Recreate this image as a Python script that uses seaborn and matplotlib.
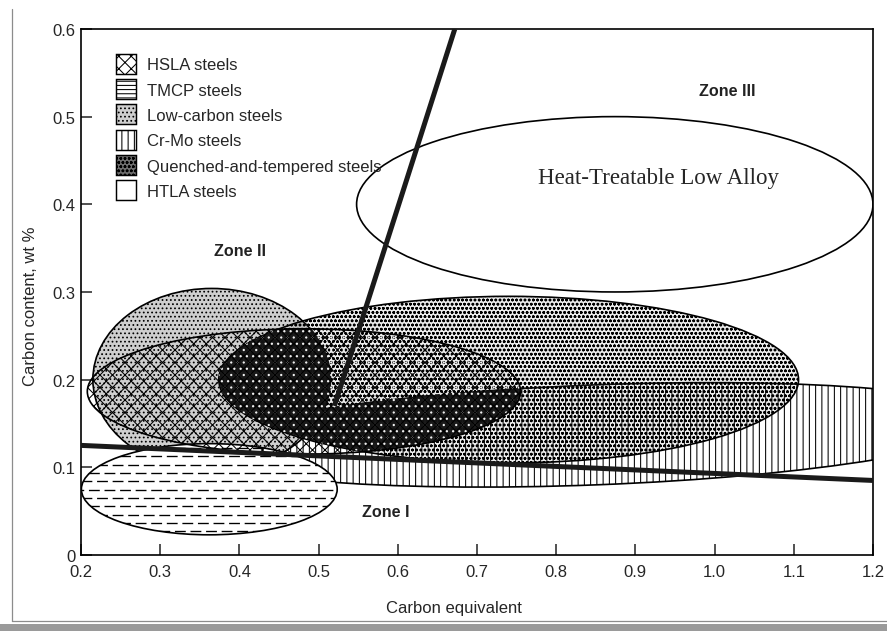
import numpy as np
import pandas as pd
import seaborn as sns
import matplotlib.pyplot as plt
from matplotlib.patches import Ellipse, Patch, Rectangle
from matplotlib.lines import Line2D


FIG_DPI = 75

# steel classes drawn as ellipses on the Graville diagram
STEELS = ['HSLA steels', 'TMCP steels', 'Low-carbon steels', 'Cr-Mo steels',
          'Quenched-and-tempered steels', 'HTLA steels']
CE_CENTRE = [0.4815, 0.362, 0.365, 0.85, 0.74, 0.874]
C_CENTRE = [0.1865, 0.075, 0.200, 0.137, 0.200, 0.400]
CE_WIDTH = [0.547, 0.323, 0.300, 1.000, 0.732, 0.652]
C_HEIGHT = [0.143, 0.104, 0.208, 0.114, 0.190, 0.200]
TILT = [0, 0, 0, 2, 0, 0]

# zone boundary lines
LOWER_CE = [0.20, 1.20]
LOWER_C = [0.125, 0.085]
STEEP_CE = [0.52, 0.672]
STEEP_C = [0.17, 0.60]

ZONE_TEXT = ['Zone I', 'Zone II', 'Zone III']
ZONE_CE = [0.585, 0.401, 1.016]
ZONE_C = [0.050, 0.347, 0.530]

X_TICKS = [0.2, 0.3, 0.4, 0.5, 0.6, 0.7, 0.8, 0.9, 1.0, 1.1, 1.2]
Y_TICKS = [0, 0.1, 0.2, 0.3, 0.4, 0.5, 0.6]
Y_TICK_LABELS = ['0', '0.1', '0.2', '0.3', '0.4', '0.5', '0.6']

HTLA_NOTE = 'Heat-Treatable Low Alloy'
NOTE_CE, NOTE_C = 0.929, 0.430

STYLE = {
    'HSLA steels': dict(facecolor='none', hatch='xx', zorder=5),
    'TMCP steels': dict(facecolor='white', hatch=None, zorder=3),
    'Low-carbon steels': dict(facecolor='#cfcfcf', hatch='...', zorder=2),
    'Cr-Mo steels': dict(facecolor='white', hatch='||', zorder=1),
    'Quenched-and-tempered steels': dict(
        facecolor=(0.5, 0.5, 0.5, 0.15), hatch='ooo', zorder=4),
    'HTLA steels': dict(facecolor='none', hatch=None, zorder=5),
}


def inside(xx, yy, i):
    # point-in-ellipse test for steel class i (data coordinates)
    t = np.deg2rad(TILT[i])
    dx, dy = xx - CE_CENTRE[i], yy - C_CENTRE[i]
    u = dx * np.cos(t) + dy * np.sin(t)
    v = -dx * np.sin(t) + dy * np.cos(t)
    return (u / (CE_WIDTH[i] / 2)) ** 2 + (v / (C_HEIGHT[i] / 2)) ** 2 <= 1


sns.set_style('white')
plt.rcParams['font.family'] = ['Liberation Sans', 'DejaVu Sans']
plt.rcParams['hatch.linewidth'] = 1.0

fig = plt.figure(figsize=(887 / FIG_DPI, 632 / FIG_DPI), dpi=FIG_DPI)
ax = fig.add_axes([0.0913, 0.1203, 0.8929, 0.8323])

regions = {}
for name, cx, cy, w, h, ang in zip(STEELS, CE_CENTRE, C_CENTRE, CE_WIDTH,
                                   C_HEIGHT, TILT):
    st = STYLE[name]
    ell = Ellipse((cx, cy), w, h, angle=ang, facecolor=st['facecolor'],
                  edgecolor='black', hatch=st['hatch'], lw=1.6,
                  zorder=st['zorder'])
    ax.add_patch(ell)
    regions[name] = ell

# TMCP: rows of short dashes clipped to its ellipse
i = STEELS.index('TMCP steels')
cx, cy, w, h = CE_CENTRE[i], C_CENTRE[i], CE_WIDTH[i], C_HEIGHT[i]
for k, yy in enumerate(np.arange(cy - h / 2 + 0.004, cy + h / 2, 0.0095)):
    ln, = ax.plot([cx - w / 2, cx + w / 2], [yy, yy], color='black', lw=1.3,
                  linestyle=(6 * (k % 2), (8, 3.5)), zorder=3.1)
    ln.set_clip_path(regions['TMCP steels'])

# where several overlays stack up the print turns almost black
gx, gy = np.meshgrid(np.linspace(0.2, 1.2, 1600), np.linspace(0, 0.6, 960))
i_hsla = STEELS.index('HSLA steels')
i_qt = STEELS.index('Quenched-and-tempered steels')
i_lc = STEELS.index('Low-carbon steels')
i_cm = STEELS.index('Cr-Mo steels')
stack = (inside(gx, gy, i_hsla) & inside(gx, gy, i_qt)
         & (inside(gx, gy, i_lc) | inside(gx, gy, i_cm)))
ink = np.zeros(stack.shape + (4,))
ink[..., :3] = 0.08
ink[..., 3] = stack * 0.97
ax.imshow(ink, extent=(0.2, 1.2, 0, 0.6), origin='lower', aspect='auto',
          interpolation='antialiased', zorder=4.5)
specks = Ellipse((CE_CENTRE[i_qt], C_CENTRE[i_qt]), CE_WIDTH[i_qt],
                 C_HEIGHT[i_qt], facecolor='none', edgecolor='#eeeeee',
                 hatch='..', lw=0, zorder=4.6)
ax.add_patch(specks)
specks.set_clip_path(regions['HSLA steels'])

bounds = pd.DataFrame({
    'ce': LOWER_CE + STEEP_CE,
    'c': LOWER_C + STEEP_C,
    'line': ['lower'] * len(LOWER_CE) + ['steep'] * len(STEEP_CE)})
sns.lineplot(data=bounds, x='ce', y='c', units='line', estimator=None,
             sort=False, color='#1a1a1a', lw=4.8, solid_capstyle='butt',
             ax=ax, zorder=6)

for txt, zx, zy in zip(ZONE_TEXT, ZONE_CE, ZONE_C):
    ax.text(zx, zy, txt, fontsize=15.5, fontweight='bold', color='#222222',
            ha='center', va='center', zorder=7)
ax.text(NOTE_CE, NOTE_C, HTLA_NOTE, fontsize=22, ha='center', va='center',
        family=['Liberation Serif', 'DejaVu Serif'], zorder=7)

handles = []
for name in STEELS:
    st = STYLE[name]
    hatch = '---' if name == 'TMCP steels' else st['hatch']
    fc = st['facecolor']
    if name == 'Quenched-and-tempered steels':
        fc = '#6e6e6e'
    handles.append(Patch(facecolor=fc, edgecolor='black', hatch=hatch,
                         lw=1.4))
ax.legend(handles, STEELS, loc='upper left', bbox_to_anchor=(0.03, 0.975),
          frameon=False, fontsize=16, handlelength=1.2, handleheight=1.47,
          handletextpad=0.65, labelspacing=0.32, borderpad=0.2)

ax.set_xlim(0.2, 1.2)
ax.set_ylim(0, 0.6)
ax.set_xticks(X_TICKS)
ax.set_yticks(Y_TICKS)
ax.set_yticklabels(Y_TICK_LABELS)
ax.tick_params(direction='in', length=11, width=1.5, labelsize=16,
               bottom=True, left=True, top=False, right=False)
ax.tick_params(axis='x', pad=9)
ax.tick_params(axis='y', pad=5)
for sp in ax.spines.values():
    sp.set_visible(True)
    sp.set_color('black')
    sp.set_linewidth(1.6)

ax.set_xlabel('Carbon equivalent', fontsize=16)
ax.set_ylabel('Carbon content, wt %', fontsize=16)
ax.xaxis.set_label_coords(0.471, -0.085)
ax.yaxis.set_label_coords(-0.054, 0.475)

# scanned page border and grey strip along the bottom
fig.add_artist(Line2D([0.0135, 0.0135], [0.984, 0.0158], color='#8c8c8c',
                      lw=1.2))
fig.add_artist(Line2D([0.0135, 1.0], [0.0158, 0.0158], color='#8c8c8c',
                      lw=1.2))
fig.add_artist(Rectangle((0, 0), 1, 0.011, color='#9a9a9a', lw=0))

fig.savefig('out.png', dpi=FIG_DPI)
